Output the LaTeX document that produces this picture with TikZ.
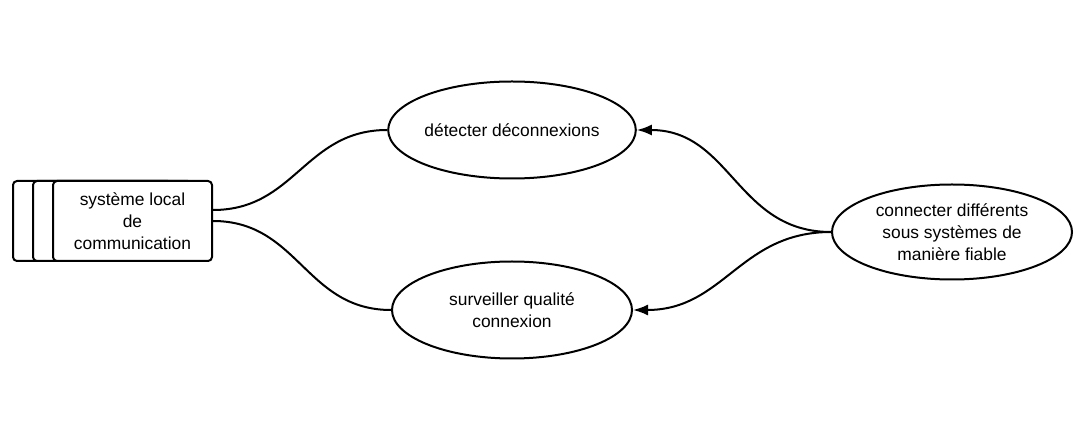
\documentclass[tikz,border=0pt]{standalone}
\usepackage{fontspec}
\setmainfont{Liberation Sans}
\usetikzlibrary{shapes.geometric,arrows.meta}
\begin{document}
\begin{tikzpicture}[x=1pt,y=-1pt,
  every node/.style={font=\fontsize{17.4}{22}\selectfont},
  stackbox/.style={draw,line width=2pt,rounded corners=4pt,fill=white,minimum width=159pt,minimum height=80pt,inner sep=0pt,align=center},
  usecase/.style={draw,line width=2pt,ellipse,minimum width=240pt,minimum height=97pt,inner sep=0pt,align=center},
  link/.style={line width=2pt},
  arr/.style={line width=2pt,-{Latex[length=15pt,width=11pt]}}]
\useasboundingbox (0,0) rectangle (1087,443);
\node[stackbox] (b3) at (92.5,221) {};
\node[stackbox] (b2) at (112.5,221) {};
\node[stackbox] (b1) at (132.5,221) {système local\\de\\communication};
\node[usecase] (u1) at (512,130) {détecter déconnexions};
\node[usecase] (u2) at (512,310) {surveiller qualité\\connexion};
\node[usecase,minimum height=95pt] (u3) at (952,232) {connecter différents\\sous systèmes de\\manière fiable};
\draw[link] ([yshift=11pt]b1.east) to[out=0,in=180,looseness=1.1] (u1.west);
\draw[link] (b1.east) to[out=0,in=180,looseness=1.1] (u2.west);
\draw[arr] (u3.west) to[out=180,in=0,looseness=1.1] (u1.east);
\draw[arr] (u3.west) to[out=180,in=0,looseness=1.1] (u2.east);
\end{tikzpicture}
\end{document}
